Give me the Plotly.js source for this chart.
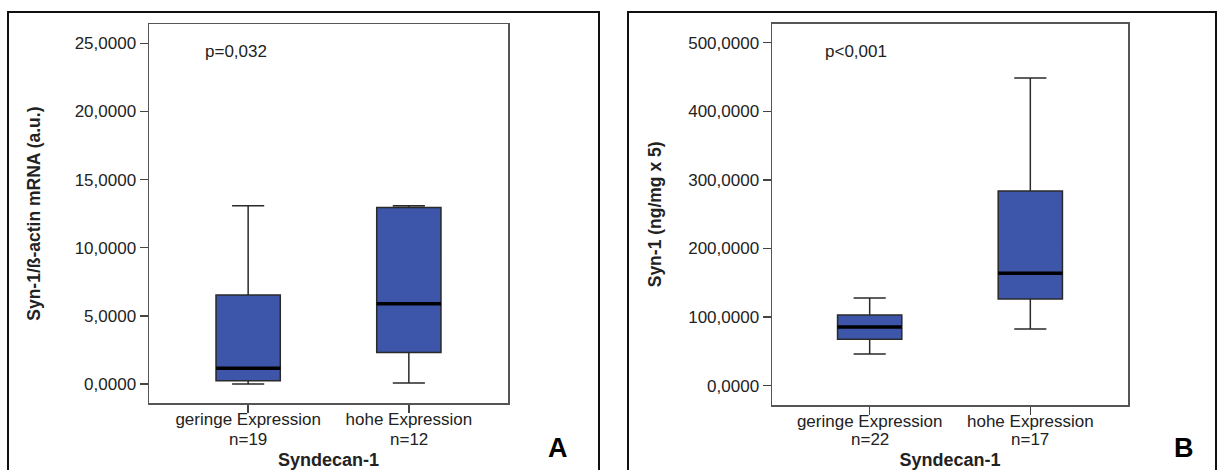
<!DOCTYPE html>
<html>
<head>
<meta charset="utf-8">
<script src="https://cdn.plot.ly/plotly-3.0.1.min.js"></script>
<style>html,body{margin:0;padding:0;background:#fff;}#chart{width:1217px;height:470px;}</style>
</head>
<body>
<div id="chart"></div>
<script>
// ---- data ----
const categories = ['geringe Expression', 'hohe Expression'];
const positions = [0, 1];
const nA = ['n=19', 'n=12'];
const nB = ['n=22', 'n=17'];

const A_lower  = [0.00, 0.07];
const A_q1     = [0.24, 2.32];
const A_median = [1.15, 5.89];
const A_q3     = [6.53, 12.96];
const A_upper  = [13.08, 13.08];

const B_lower  = [46.2, 82.7];
const B_q1     = [67.6, 126.4];
const B_median = [85.6, 163.8];
const B_q3     = [103.0, 283.8];
const B_upper  = [127.8, 448.5];

const A_ticks = [0, 5, 10, 15, 20, 25];
const B_ticks = [0, 100, 200, 300, 400, 500];

const yTitleA = 'Syn-1/ß-actin mRNA (a.u.)';
const yTitleB = 'Syn-1 (ng/mg x 5)';
const xTitle = 'Syndecan-1';
const pA = 'p=0,032';
const pB = 'p<0,001';

// ---- style ----
const FONT = 'Liberation Sans, Arial, sans-serif';
const FILL = '#3d56a9';
const BOXW = 0.4;
const W = 1217, H = 470;

function boxTrace(xa, ya, lo, q1, med, q3, up) {
  return {
    type: 'box', xaxis: xa, yaxis: ya,
    x: positions, lowerfence: lo, q1: q1, median: med, q3: q3, upperfence: up,
    width: BOXW, whiskerwidth: 0.5,
    fillcolor: FILL, line: {color: '#2a2a2a', width: 1.5},
    boxpoints: false, showlegend: false, hoverinfo: 'skip'
  };
}
function medianTrace(xa, ya, med) {
  const x = [], y = [];
  positions.forEach((p, i) => { x.push(p - BOXW / 2, p + BOXW / 2, null); y.push(med[i], med[i], null); });
  return {type: 'scatter', mode: 'lines', xaxis: xa, yaxis: ya, x: x, y: y,
          line: {color: '#000', width: 3.5}, showlegend: false, hoverinfo: 'skip'};
}

const traces = [
  boxTrace('x', 'y', A_lower, A_q1, A_median, A_q3, A_upper),
  medianTrace('x', 'y', A_median),
  boxTrace('x2', 'y2', B_lower, B_q1, B_median, B_q3, B_upper),
  medianTrace('x2', 'y2', B_median)
];

const px = v => v / W;
const py = v => 1 - v / H;

function xAxis(domain, range, anchor) {
  return {
    domain: domain, range: range, anchor: anchor, tickvals: positions, ticktext: categories,
    ticks: 'outside', ticklen: 8, tickwidth: 1.5, tickcolor: '#444', ticklabelstandoff: -8,
    showline: true, mirror: true, linecolor: '#555', linewidth: 1.5,
    showgrid: false, zeroline: false, fixedrange: true,
    tickfont: {family: FONT, size: 17, color: '#222'},
    title: {text: xTitle, standoff: 30, font: {family: FONT, size: 18, color: '#222', weight: 'bold'}}
  };
}
function yAxis(domain, range, ticks, title, standoff, anchor) {
  return {
    domain: domain, range: range, tickvals: ticks, tickformat: '.4f', anchor: anchor,
    ticks: 'outside', ticklen: 8, tickwidth: 1.5, tickcolor: '#444',
    showline: true, mirror: true, linecolor: '#555', linewidth: 1.5,
    showgrid: false, zeroline: false, fixedrange: true,
    tickfont: {family: FONT, size: 17, color: '#222'},
    title: {text: title, standoff: standoff, font: {family: FONT, size: 17.5, color: '#222', weight: 'bold'}}
  };
}

const annotations = [];
positions.forEach((p, i) => {
  annotations.push({xref: 'x', yref: 'paper', x: p, y: py(439), text: nA[i], showarrow: false,
    xanchor: 'center', yanchor: 'middle', font: {family: FONT, size: 17, color: '#222'}});
  annotations.push({xref: 'x2', yref: 'paper', x: p, y: py(439), text: nB[i], showarrow: false,
    xanchor: 'center', yanchor: 'middle', font: {family: FONT, size: 17, color: '#222'}});
});
annotations.push({xref: 'paper', yref: 'paper', x: px(203), y: py(52), text: pA, showarrow: false,
  xanchor: 'left', yanchor: 'middle', font: {family: FONT, size: 17, color: '#222'}});
annotations.push({xref: 'paper', yref: 'paper', x: px(823), y: py(52), text: pB, showarrow: false,
  xanchor: 'left', yanchor: 'middle', font: {family: FONT, size: 17, color: '#222'}});
annotations.push({xref: 'paper', yref: 'paper', x: px(558), y: py(448), text: 'A', showarrow: false,
  xanchor: 'center', yanchor: 'middle', font: {family: FONT, size: 27, color: '#000', weight: 'bold'}});
annotations.push({xref: 'paper', yref: 'paper', x: px(1184), y: py(448), text: 'B', showarrow: false,
  xanchor: 'center', yanchor: 'middle', font: {family: FONT, size: 27, color: '#000', weight: 'bold'}});

const shapes = [
  {type: 'rect', xref: 'paper', yref: 'paper', x0: px(8), x1: px(599), y0: -0.1, y1: py(12), line: {color: '#111', width: 2}},
  {type: 'rect', xref: 'paper', yref: 'paper', x0: px(628), x1: px(1216), y0: -0.1, y1: py(12), line: {color: '#111', width: 2}}
];

const layout = {
  width: W, height: H, margin: {l: 0, r: 0, t: 0, b: 0},
  paper_bgcolor: '#fff', plot_bgcolor: '#fff',
  separators: ',.', showlegend: false,
  xaxis: xAxis([px(149), px(508)], [-0.617, 1.617], 'y'),
  yaxis: yAxis([py(403), py(24.3)], [-1.39, 26.39], A_ticks, yTitleA, 29, 'x'),
  xaxis2: xAxis([px(772), px(1128)], [-0.608, 1.608], 'y2'),
  yaxis2: yAxis([py(405), py(23.7)], [-28.1, 527.7], B_ticks, yTitleB, 22, 'x2'),
  annotations: annotations, shapes: shapes
};

Plotly.newPlot('chart', traces, layout, {staticPlot: true, displayModeBar: false});
</script>
</body>
</html>
